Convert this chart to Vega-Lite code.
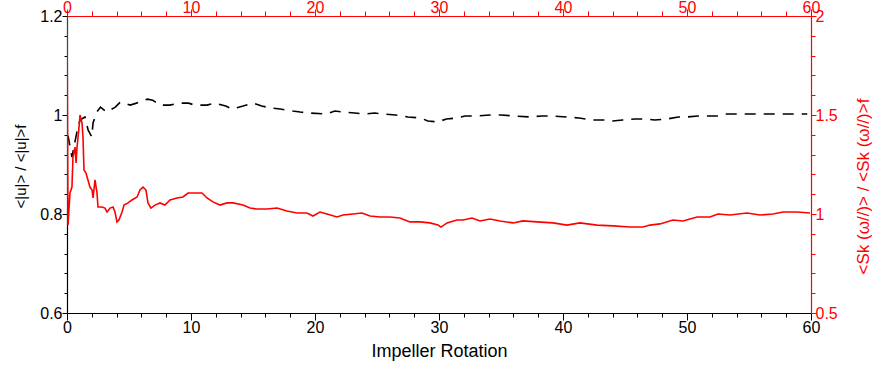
{
  "$schema": "https://vega.github.io/schema/vega-lite/v6.json",
  "width": 744,
  "height": 297,
  "autosize": {"type": "none"},
  "padding": {"left": 67, "top": 16, "right": 68, "bottom": 53},
  "background": "white",
  "config": {
    "view": {"stroke": null},
    "axis": {"labelFont": "Liberation Sans", "titleFont": "Liberation Sans", "grid": false, "labelFontSize": 16, "titleFontWeight": "normal", "labelFlush": false, "labelOverlap": false, "domainWidth": 1.2, "tickWidth": 1}
  },
  "datasets": {
    "black": [
      {"t": 0, "v": 0.96}, {"t": 0.1, "v": 0.956}, {"t": 0.4, "v": 0.915}, {"t": 0.8, "v": 0.966},
      {"t": 1.05, "v": 0.99}, {"t": 1.45, "v": 0.996}, {"t": 1.7, "v": 0.97}, {"t": 2.0, "v": 0.956},
      {"t": 2.1, "v": 0.984}, {"t": 2.4, "v": 1.006}, {"t": 2.7, "v": 1.016}, {"t": 3.2, "v": 1.006},
      {"t": 3.9, "v": 1.016}, {"t": 4.3, "v": 1.026}, {"t": 5.1, "v": 1.02}, {"t": 5.6, "v": 1.024},
      {"t": 6.5, "v": 1.032}, {"t": 6.9, "v": 1.03}, {"t": 7.5, "v": 1.02}, {"t": 8.3, "v": 1.02},
      {"t": 9.0, "v": 1.024}, {"t": 9.8, "v": 1.024}, {"t": 10.3, "v": 1.02}, {"t": 11.3, "v": 1.02},
      {"t": 11.9, "v": 1.024}, {"t": 12.8, "v": 1.018}, {"t": 13.3, "v": 1.012}, {"t": 14.2, "v": 1.018},
      {"t": 15.0, "v": 1.024}, {"t": 15.7, "v": 1.018}, {"t": 16.5, "v": 1.014}, {"t": 17.2, "v": 1.012},
      {"t": 18.2, "v": 1.008}, {"t": 18.8, "v": 1.006}, {"t": 19.6, "v": 1.004}, {"t": 20.9, "v": 1.002},
      {"t": 21.6, "v": 1.008}, {"t": 22.3, "v": 1.006}, {"t": 23.2, "v": 1.004}, {"t": 24.0, "v": 1.002},
      {"t": 24.8, "v": 1.004}, {"t": 25.5, "v": 1.002}, {"t": 26.5, "v": 1.0}, {"t": 27.5, "v": 0.996},
      {"t": 28.5, "v": 0.994}, {"t": 29.1, "v": 0.988}, {"t": 29.9, "v": 0.986}, {"t": 30.6, "v": 0.992},
      {"t": 31.5, "v": 0.994}, {"t": 32.1, "v": 0.998}, {"t": 33.1, "v": 0.998}, {"t": 34.1, "v": 1.0},
      {"t": 35.0, "v": 1.0}, {"t": 36.1, "v": 0.998}, {"t": 37.3, "v": 0.996}, {"t": 38.3, "v": 0.998},
      {"t": 39.2, "v": 0.998}, {"t": 40.3, "v": 0.996}, {"t": 41.3, "v": 0.994}, {"t": 42.3, "v": 0.99},
      {"t": 43.4, "v": 0.99}, {"t": 44.0, "v": 0.988}, {"t": 44.8, "v": 0.99}, {"t": 45.8, "v": 0.992},
      {"t": 46.5, "v": 0.992}, {"t": 47.4, "v": 0.99}, {"t": 48.4, "v": 0.992}, {"t": 49.3, "v": 0.996},
      {"t": 50.0, "v": 0.996}, {"t": 50.9, "v": 0.998}, {"t": 52.5, "v": 0.998}, {"t": 53.2, "v": 1.002},
      {"t": 54.3, "v": 1.002}, {"t": 55.1, "v": 1.002}, {"t": 56.0, "v": 1.002}, {"t": 57.5, "v": 1.002},
      {"t": 58.3, "v": 1.002}, {"t": 59.7, "v": 1.002}
    ],
    "red": [
      {"t": 0, "v": 2.0}, {"t": 0.08, "v": 0.944}, {"t": 0.24, "v": 1.106}, {"t": 0.4, "v": 1.136},
      {"t": 0.48, "v": 1.288}, {"t": 0.65, "v": 1.338}, {"t": 0.73, "v": 1.258}, {"t": 0.81, "v": 1.338},
      {"t": 0.97, "v": 1.439}, {"t": 1.05, "v": 1.5}, {"t": 1.21, "v": 1.46}, {"t": 1.29, "v": 1.389},
      {"t": 1.37, "v": 1.222}, {"t": 1.53, "v": 1.207}, {"t": 1.69, "v": 1.172}, {"t": 1.85, "v": 1.136},
      {"t": 2.02, "v": 1.121}, {"t": 2.1, "v": 1.081}, {"t": 2.26, "v": 1.172}, {"t": 2.42, "v": 1.106},
      {"t": 2.5, "v": 1.035}, {"t": 2.82, "v": 1.035}, {"t": 3.06, "v": 1.03}, {"t": 3.23, "v": 1.01},
      {"t": 3.47, "v": 1.03}, {"t": 3.71, "v": 1.035}, {"t": 3.87, "v": 1.01}, {"t": 4.03, "v": 0.96},
      {"t": 4.19, "v": 0.97}, {"t": 4.44, "v": 1.01}, {"t": 4.6, "v": 1.045}, {"t": 4.92, "v": 1.056},
      {"t": 5.24, "v": 1.071}, {"t": 5.65, "v": 1.086}, {"t": 5.89, "v": 1.121}, {"t": 6.13, "v": 1.136},
      {"t": 6.37, "v": 1.121}, {"t": 6.53, "v": 1.056}, {"t": 6.77, "v": 1.03}, {"t": 7.1, "v": 1.045},
      {"t": 7.5, "v": 1.056}, {"t": 7.9, "v": 1.045}, {"t": 8.31, "v": 1.071}, {"t": 8.87, "v": 1.081},
      {"t": 9.35, "v": 1.086}, {"t": 9.76, "v": 1.106}, {"t": 10.73, "v": 1.106}, {"t": 10.89, "v": 1.106},
      {"t": 11.29, "v": 1.081}, {"t": 11.77, "v": 1.061}, {"t": 12.34, "v": 1.045}, {"t": 12.9, "v": 1.056},
      {"t": 13.39, "v": 1.056}, {"t": 14.19, "v": 1.045}, {"t": 14.76, "v": 1.03}, {"t": 15.32, "v": 1.025},
      {"t": 16.13, "v": 1.025}, {"t": 16.94, "v": 1.03}, {"t": 17.74, "v": 1.015}, {"t": 18.55, "v": 1.005},
      {"t": 19.35, "v": 1.005}, {"t": 19.84, "v": 0.99}, {"t": 20.4, "v": 1.01}, {"t": 20.97, "v": 1.0},
      {"t": 21.77, "v": 0.985}, {"t": 22.26, "v": 0.995}, {"t": 23.06, "v": 1.0}, {"t": 23.79, "v": 1.005},
      {"t": 24.44, "v": 0.99}, {"t": 25.24, "v": 0.985}, {"t": 26.05, "v": 0.985}, {"t": 26.85, "v": 0.98},
      {"t": 27.66, "v": 0.96}, {"t": 28.47, "v": 0.96}, {"t": 29.27, "v": 0.955}, {"t": 29.92, "v": 0.944},
      {"t": 30.16, "v": 0.934}, {"t": 30.65, "v": 0.955}, {"t": 31.45, "v": 0.97}, {"t": 31.94, "v": 0.97},
      {"t": 32.66, "v": 0.98}, {"t": 33.31, "v": 0.965}, {"t": 34.11, "v": 0.975}, {"t": 34.92, "v": 0.965},
      {"t": 35.97, "v": 0.955}, {"t": 36.77, "v": 0.965}, {"t": 37.9, "v": 0.96}, {"t": 39.19, "v": 0.955},
      {"t": 40.32, "v": 0.944}, {"t": 41.37, "v": 0.955}, {"t": 42.74, "v": 0.944}, {"t": 44.03, "v": 0.94},
      {"t": 45.4, "v": 0.934}, {"t": 46.45, "v": 0.934}, {"t": 47.02, "v": 0.944}, {"t": 47.82, "v": 0.95},
      {"t": 48.87, "v": 0.97}, {"t": 49.68, "v": 0.965}, {"t": 50.81, "v": 0.985}, {"t": 51.85, "v": 0.985},
      {"t": 52.5, "v": 1.0}, {"t": 53.47, "v": 0.995}, {"t": 54.84, "v": 1.005}, {"t": 55.89, "v": 0.995},
      {"t": 56.94, "v": 1.0}, {"t": 57.74, "v": 1.01}, {"t": 58.87, "v": 1.01}, {"t": 59.92, "v": 1.005}
    ]
  },
  "layer": [
    {
      "data": {"name": "black"},
      "mark": {"type": "line", "color": "black", "strokeDash": [11, 8], "strokeWidth": 1.6, "clip": true},
      "encoding": {
        "x": {
          "field": "t", "type": "quantitative",
          "scale": {"domain": [0, 60], "nice": false},
          "axis": {
            "orient": "bottom",
            "values": [0, 2, 4, 6, 8, 10, 12, 14, 16, 18, 20, 22, 24, 26, 28, 30, 32, 34, 36, 38, 40, 42, 44, 46, 48, 50, 52, 54, 56, 58, 60],
            "labelExpr": "datum.value % 10 === 0 ? format(datum.value, 'd') : ''",
            "tickSize": {"condition": {"test": "datum.value % 10 === 0", "value": 7}, "value": 4},
            "labelPadding": -1,
            "domainColor": "black", "tickColor": "black", "labelColor": "black",
            "title": "Impeller Rotation", "titleFontSize": 18, "titleColor": "black",
            "titleBaseline": "alphabetic", "titleY": 43
          }
        },
        "y": {
          "field": "v", "type": "quantitative",
          "scale": {"domain": [0.6, 1.2], "nice": false, "zero": false},
          "axis": {
            "orient": "left",
            "values": [0.6, 0.64, 0.68, 0.72, 0.76, 0.8, 0.84, 0.88, 0.92, 0.96, 1, 1.04, 1.08, 1.12, 1.16, 1.2],
            "labelExpr": "abs(datum.value * 5 - round(datum.value * 5)) < 1e-6 ? format(datum.value, '~g') : ''",
            "tickSize": {"condition": {"test": "abs(datum.value * 5 - round(datum.value * 5)) < 1e-6", "value": 5}, "value": 3},
            "labelPadding": 0,
            "domainColor": "black", "tickColor": "black", "labelColor": "black",
            "title": "<|u|> / <|u|>f", "titleFontSize": 15, "titleColor": "black",
            "titleAngle": -90, "titleAlign": "center", "titleBaseline": "middle",
            "titleX": -47, "titleY": 150
          }
        }
      }
    },
    {
      "data": {"name": "red"},
      "mark": {"type": "line", "color": "#ff0000", "strokeWidth": 1.6, "clip": true},
      "encoding": {
        "x": {
          "field": "t", "type": "quantitative",
          "scale": {"domain": [0, 60], "nice": false},
          "axis": {
            "orient": "top",
            "values": [0, 2, 4, 6, 8, 10, 12, 14, 16, 18, 20, 22, 24, 26, 28, 30, 32, 34, 36, 38, 40, 42, 44, 46, 48, 50, 52, 54, 56, 58, 60],
            "labelExpr": "datum.value % 10 === 0 ? format(datum.value, 'd') : ''",
            "tickSize": {"condition": {"test": "datum.value % 10 === 0", "value": 7}, "value": 5},
            "labelPadding": -6,
            "domainColor": "#ff0000", "tickColor": "#ff0000", "labelColor": "#ff0000",
            "title": null
          }
        },
        "y": {
          "field": "v", "type": "quantitative",
          "scale": {"domain": [0.5, 2], "nice": false, "zero": false},
          "axis": {
            "orient": "right",
            "values": [0.5, 0.6, 0.7, 0.8, 0.9, 1, 1.1, 1.2, 1.3, 1.4, 1.5, 1.6, 1.7, 1.8, 1.9, 2],
            "labelExpr": "abs(datum.value * 2 - round(datum.value * 2)) < 1e-6 ? format(datum.value, '~g') : ''",
            "tickSize": {"condition": {"test": "abs(datum.value * 2 - round(datum.value * 2)) < 1e-6", "value": 5}, "value": 4},
            "labelPadding": -1,
            "domainColor": "#ff0000", "tickColor": "#ff0000", "labelColor": "#ff0000",
            "title": "<Sk (ω//)> / <Sk (ω//)>f", "titleFontSize": 17, "titleColor": "#ff0000",
            "titleAngle": -90, "titleAlign": "center", "titleBaseline": "middle",
            "titleX": 52, "titleY": 170
          }
        }
      }
    }
  ],
  "resolve": {"scale": {"y": "independent"}, "axis": {"x": "independent", "y": "independent"}}
}
